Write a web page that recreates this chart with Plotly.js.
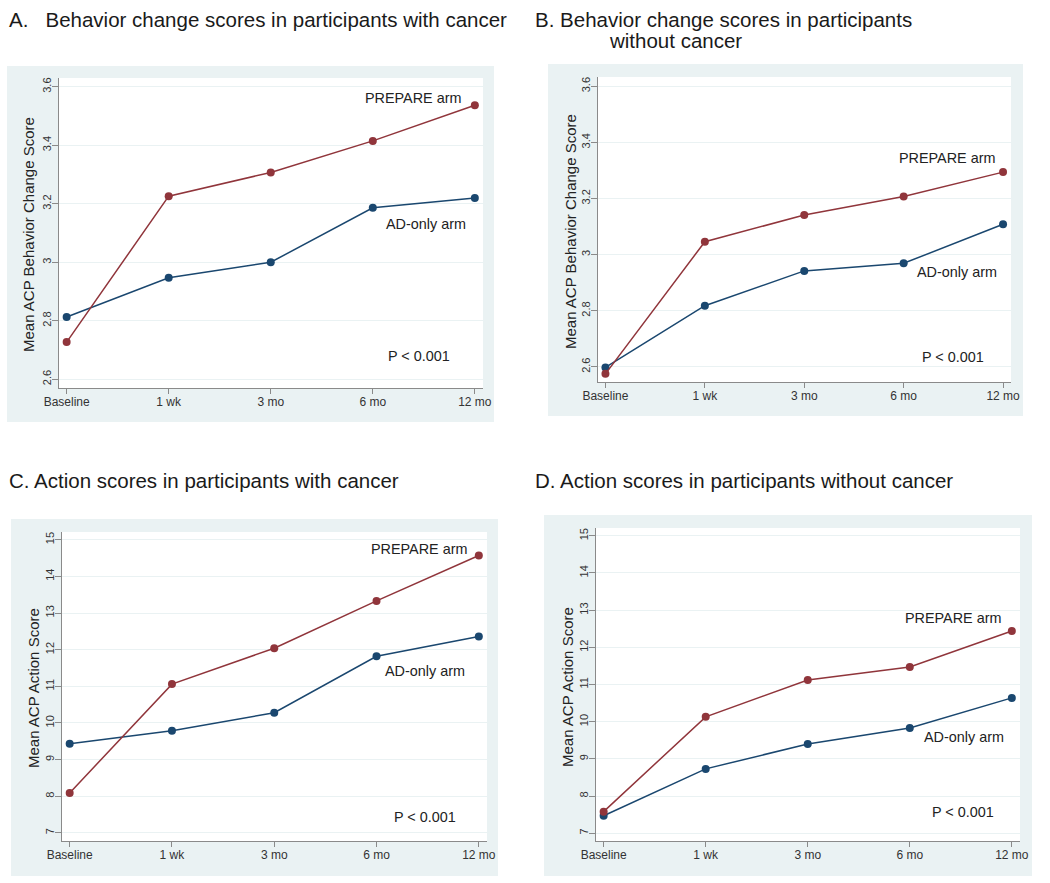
<!DOCTYPE html>
<html>
<head>
<meta charset="utf-8">
<script src="https://cdn.plot.ly/plotly-3.0.1.min.js"></script>
<style>
  body { margin: 0; background: #fff; }
  #plotDiv { width: 1050px; height: 883px; }
</style>
</head>
<body>
<div id="plotDiv"></div>
<script>
// time points on the x axis
const timepoints = ["Baseline", "1 wk", "3 mo", "6 mo", "12 mo"];

// A. behavior change, with cancer
const prepareA = [2.727, 3.226, 3.307, 3.415, 3.537];
const adOnlyA = [2.813, 2.947, 3.000, 3.186, 3.220];
// B. behavior change, without cancer
const prepareB = [2.575, 3.046, 3.141, 3.207, 3.294];
const adOnlyB = [2.598, 2.818, 2.942, 2.969, 3.108];
// C. action, with cancer
const prepareC = [8.09, 11.06, 12.04, 13.33, 14.57];
const adOnlyC = [9.43, 9.79, 10.28, 11.82, 12.36];
// D. action, without cancer
const prepareD = [7.58, 10.13, 11.12, 11.47, 12.44];
const adOnlyD = [7.47, 8.73, 9.40, 9.83, 10.64];

const behaviorTicks = [2.6, 2.8, 3, 3.2, 3.4, 3.6];
const actionTicks = [7, 8, 9, 10, 11, 12, 13, 14, 15];

const seriesNames = ["PREPARE arm", "AD-only arm"];
const pLabel = "P < 0.001";
const behaviorTitle = "Mean ACP Behavior Change Score";
const actionTitle = "Mean ACP Action Score";

const W = 1050, H = 883;
const RED = "#90353b", BLUE = "#1a476f", BG = "#eaf2f3";
const FONT = "Liberation Sans, Arial, sans-serif";

// pixel boxes (left, top, right, bottom) for the plot areas and grey panels
const panels = [
  { plot: [59, 78, 483, 388],   box: [7, 66, 494, 422],   ticks: behaviorTicks, yr: [2.57, 3.63],  yt: behaviorTitle, ytPos: [29, 235],
    prep: prepareA, ad: adOnlyA, labels: [[413, 98], [426, 224], [419, 356]] },
  { plot: [598, 77, 1011, 382], box: [548, 64, 1023, 416], ticks: behaviorTicks, yr: [2.546, 3.633], yt: behaviorTitle, ytPos: [570, 232],
    prep: prepareB, ad: adOnlyB, labels: [[947, 158], [957, 272], [953, 357]] },
  { plot: [62, 532, 487, 841],  box: [11, 519, 498, 876],  ticks: actionTicks, yr: [6.78, 15.21], yt: actionTitle, ytPos: [33, 688],
    prep: prepareC, ad: adOnlyC, labels: [[419, 549], [425, 671], [425, 817]] },
  { plot: [596, 528, 1020, 841], box: [544, 515, 1032, 876], ticks: actionTicks, yr: [6.79, 15.21], yt: actionTitle, ytPos: [567, 687],
    prep: prepareD, ad: adOnlyD, labels: [[953, 618], [964, 737], [963, 812]] }
];

const px = x => x / W;
const py = y => 1 - y / H;

let data = [];
let layout = {
  width: W, height: H,
  margin: { l: 0, r: 0, t: 0, b: 0 },
  paper_bgcolor: "#ffffff",
  plot_bgcolor: "#ffffff",
  showlegend: false,
  font: { family: FONT, color: "#222" },
  shapes: [],
  annotations: []
};

panels.forEach((p, i) => {
  const n = i === 0 ? "" : String(i + 1);
  const xa = "x" + n, ya = "y" + n;

  data.push({
    x: timepoints, y: p.ad, xaxis: xa, yaxis: ya, type: "scatter", mode: "lines+markers",
    name: seriesNames[1], line: { color: BLUE, width: 1.5 }, marker: { color: BLUE, size: 8 }
  });
  data.push({
    x: timepoints, y: p.prep, xaxis: xa, yaxis: ya, type: "scatter", mode: "lines+markers",
    name: seriesNames[0], line: { color: RED, width: 1.5 }, marker: { color: RED, size: 8 }
  });

  layout["xaxis" + n] = {
    type: "category", anchor: ya,
    domain: [px(p.plot[0]), px(p.plot[2])],
    range: [-0.075, 4.08],
    showgrid: false, zeroline: false,
    showline: true, linecolor: "#8a8a8a", linewidth: 1,
    ticks: "outside", ticklen: 5, tickcolor: "#8a8a8a",
    ticklabelstandoff: -2,
    tickfont: { size: 12, color: "#333", family: FONT }
  };
  layout["yaxis" + n] = {
    anchor: xa,
    domain: [py(p.plot[3]), py(p.plot[1])],
    range: p.yr,
    tickvals: p.ticks,
    tickangle: -90,
    showgrid: true, gridcolor: BG, gridwidth: 1,
    zeroline: false,
    showline: true, linecolor: "#8a8a8a", linewidth: 1,
    ticks: "outside", ticklen: 6, tickcolor: "#8a8a8a",
    ticklabelstandoff: -3,
    tickfont: { size: 11, color: "#333", family: FONT }
  };

  // grey graph region, then white plot region
  layout.shapes.push({
    type: "rect", xref: "paper", yref: "paper", layer: "below",
    x0: px(p.box[0]), x1: px(p.box[2]), y0: py(p.box[3]), y1: py(p.box[1]),
    fillcolor: BG, line: { width: 0 }
  });
  layout.shapes.push({
    type: "rect", xref: "paper", yref: "paper", layer: "below",
    x0: px(p.plot[0]), x1: px(p.plot[2]), y0: py(p.plot[3]), y1: py(p.plot[1]),
    fillcolor: "#ffffff", line: { width: 0 }
  });

  // y axis title
  layout.annotations.push({
    xref: "paper", yref: "paper", x: px(p.ytPos[0]), y: py(p.ytPos[1]),
    xanchor: "center", yanchor: "middle", showarrow: false, textangle: -90,
    text: p.yt, font: { size: 15, color: "#222", family: FONT }
  });

  const txt = [seriesNames[0], seriesNames[1], pLabel];
  p.labels.forEach((pos, k) => {
    layout.annotations.push({
      xref: "paper", yref: "paper", x: px(pos[0]), y: py(pos[1]),
      xanchor: "center", yanchor: "middle", showarrow: false,
      text: txt[k], font: { size: 14.4, color: "#222", family: FONT }
    });
  });
});

// panel headings
const headings = [
  ["A.\u00a0\u00a0 Behavior change scores in participants with cancer", 7, 19],
  ["B. Behavior change scores in participants", 533, 19],
  ["without cancer", 607, 40],
  ["C. Action scores in participants with cancer", 7, 481],
  ["D. Action scores in participants without cancer", 533, 481]
];
headings.forEach(h => {
  layout.annotations.push({
    xref: "paper", yref: "paper", x: px(h[1]), y: py(h[2]),
    xanchor: "left", yanchor: "middle", showarrow: false,
    text: h[0], font: { size: 20.5, color: "#1a1a1a", family: FONT }
  });
});

Plotly.newPlot("plotDiv", data, layout, { displayModeBar: false, staticPlot: true });
</script>
</body>
</html>
